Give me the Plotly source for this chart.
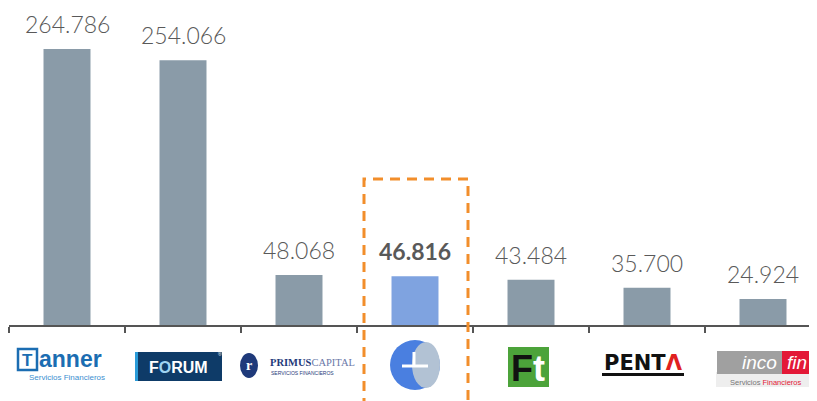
import plotly.graph_objects as go

# ---------------- data ----------------
companies = ["Tanner", "Forum", "Primus Capital", "Highlighted", "Ft", "Penta", "Incofin"]
values = [264786, 254066, 48068, 46816, 43484, 35700, 24924]
highlight_index = 3

BAR_GRAY = "#8A9BA8"
BAR_BLUE = "#7FA3E0"
TEXT_GRAY = "#595959"
ORANGE = "#F28E2B"

OFF = 8  # page body margin
W, H = 817 - OFF, 401 - OFF
AXIS_X0, AXIS_Y = 9, 325          # window pixel coords
ML = AXIS_X0 - OFF
MT = 0
MB = H - (AXIS_Y - OFF)
PLOT_W = W - ML
PLOT_H = H - MT - MB
CAT_PX = 116.0
X_MIN = -0.5
X_MAX = X_MIN + PLOT_W / CAT_PX
Y_MAX = PLOT_H / 1.0424 * 1000

def px(xp):
    return (xp - OFF - ML) / PLOT_W

def py(yp):
    return (MT + PLOT_H - (yp - OFF)) / PLOT_H

x = list(range(len(companies)))
colors = [BAR_BLUE if i == highlight_index else BAR_GRAY for i in x]

fig = go.Figure()
fig.add_trace(go.Bar(
    x=x, y=values, width=0.405, marker=dict(color=colors, line=dict(width=0)),
    hoverinfo="skip",
))

shapes = []
ann = []

# value labels
for i, v in zip(x, values):
    s = f"{v:,}".replace(",", ".")
    if i == highlight_index:
        s = f"<b>{s}</b>"
    ann.append(dict(x=i, y=v, xref="x", yref="y", text=s, showarrow=False,
                    xanchor="center", yanchor="bottom", yshift=9,
                    font=dict(family="Lato", size=23, color=TEXT_GRAY,
                              weight=700 if i == highlight_index else 300)))

# dashed highlight box
shapes.append(dict(type="rect", xref="paper", yref="paper",
                   x0=px(364), x1=px(468), y0=py(415), y1=py(179),
                   line=dict(color=ORANGE, width=3, dash="10px,7px"), layer="above"))

def text(xp, yp, s, size, color, family="Liberation Sans", xanchor="center"):
    ann.append(dict(xref="paper", yref="paper", x=px(xp), y=py(yp), text=s,
                    showarrow=False, xanchor=xanchor, yanchor="middle",
                    font=dict(family=family, size=size, color=color)))

def rect(x0, y0, x1, y1, fill, line=None, kind="rect"):
    shapes.append(dict(type=kind, xref="paper", yref="paper", x0=px(x0), x1=px(x1),
                       y0=py(y1), y1=py(y0), fillcolor=fill,
                       line=line or dict(width=0), layer="above"))

# Tanner
TB = "#1B6DB2"
rect(18, 349, 37, 370, "rgba(0,0,0,0)", dict(color=TB, width=2.5))
text(27.5, 360, "<b>T</b>", 17, TB)
text(37, 359, "<b>anner</b>", 23, TB, xanchor="left")
text(67, 377.5, "Servicios Financieros", 8, "#3C8FD0")

# Forum
rect(135, 352, 222, 381, "#0E3B68")
rect(135, 352, 138, 381, "#2A9BD8")
text(178, 367, "<b>F<span style='color:#9FD3F2'>O</span>RUM</b>", 16, "white")
text(220, 354, "®", 5, "white")

# Primus Capital
rect(240, 353, 258, 378, "#1F3A7A", kind="circle")
text(249, 365.5, "<b>r</b>", 14, "white", family="Liberation Serif")
text(268, 362, "<b>PRIMUS</b><span style='color:#6A78A8'>CAPITAL</span>", 10.5,
     "#1F3A7A", family="Liberation Serif", xanchor="left")
text(269, 373, "SERVICIOS FINANCIEROS", 5, "#1F3A7A", xanchor="left")

# circle logo
rect(390, 340, 440, 390, "#4A7FE0", kind="circle")
rect(412, 342, 440, 388, "#B2C2D4", kind="circle")
shapes.append(dict(type="line", xref="paper", yref="paper", x0=px(402), x1=px(428),
                   y0=py(366), y1=py(366), line=dict(color="white", width=3), layer="above"))
shapes.append(dict(type="line", xref="paper", yref="paper", x0=px(414), x1=px(414),
                   y0=py(352), y1=py(366), line=dict(color="white", width=3), layer="above"))

# Ft
rect(508, 347, 549, 387, "#4CA33A")
text(528, 368, "<b>F<span style='color:white'>t</span></b>", 36, "#111111")

# Penta
text(643, 362.5, "<b>PENT<span style='color:#E02020'>Λ</span></b>", 21, "#111111",
     family="DejaVu Sans")
rect(602, 373, 684, 376, "#111111")

# Incofin
rect(716, 372, 814, 387, "#EEEEEE")
rect(717, 351, 814, 374, "#A0A0A0")
rect(782, 351, 814, 374, "#E31837")
text(759, 362, "<i>inco</i>", 19, "white")
text(797, 362, "<i>fin</i>", 19, "white")
text(766, 382, "Servicios <span style='color:#E31837'>Financieros</span>", 7.5, "#777777")

fig.update_layout(
    width=W, height=H,
    margin=dict(l=ML, r=0, t=MT, b=MB, pad=0),
    plot_bgcolor="white", paper_bgcolor="white",
    showlegend=False,
    shapes=shapes, annotations=ann,
    xaxis=dict(range=[X_MIN, X_MAX], showgrid=False, zeroline=False,
               showline=True, linecolor="#555555", linewidth=2,
               tickmode="array", tickvals=[i - 0.5 for i in range(len(companies) + 1)],
               ticktext=[""] * (len(companies) + 1),
               ticks="outside", ticklen=6, tickwidth=2, tickcolor="#555555"),
    yaxis=dict(range=[0, Y_MAX], visible=False, showgrid=False, zeroline=False),
)

fig.write_html("out.html")
